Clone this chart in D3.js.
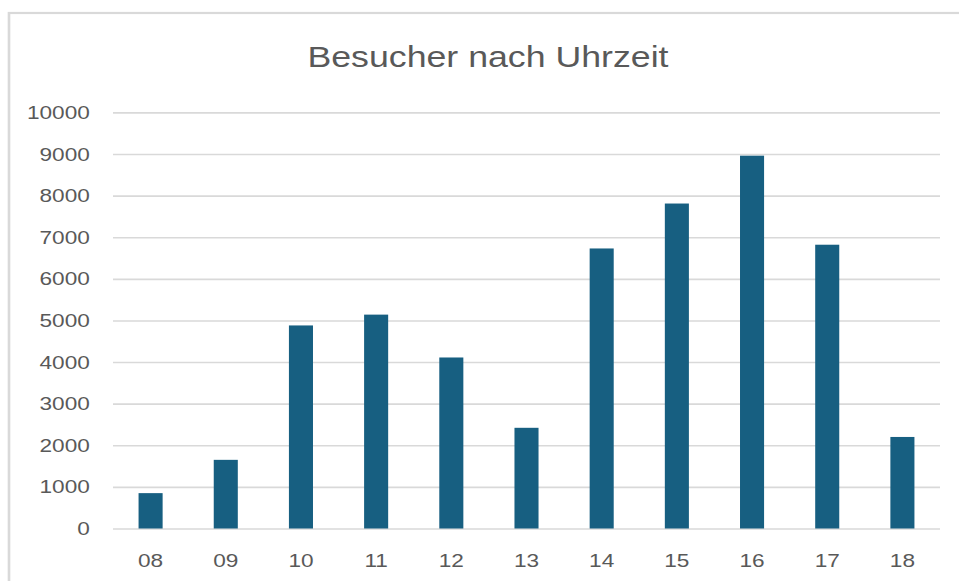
<!DOCTYPE html>
<html>
<head>
<meta charset="utf-8">
<script src="https://cdn.jsdelivr.net/npm/d3@7"></script>
<style>
  body { margin: 0; background: #fff; }
  svg { display: block; }
  .axis text { font-family: "Liberation Sans", Arial, sans-serif; font-size: 19px; fill: #595959; }
  .title { font-family: "Liberation Sans", Arial, sans-serif; font-size: 30px; fill: #595959; }
</style>
</head>
<body>
<svg id="chart"></svg>
<script>
const hours = ["08", "09", "10", "11", "12", "13", "14", "15", "16", "17", "18"];
const visitors = [850, 1650, 4880, 5140, 4110, 2420, 6730, 7810, 8960, 6820, 2200];
const yTicks = [0, 1000, 2000, 3000, 4000, 5000, 6000, 7000, 8000, 9000, 10000];
const titleText = "Besucher nach Uhrzeit";

// the reference looks stretched sideways, so draw in a narrower box and stretch it
const sx = 1.19;
const widthPx = 959, heightPx = 581;
const vbWidth = widthPx / sx;

let margin = {left: 113 / sx, right: 940 / sx, top: 112.4, bottom: 528.5};

let svg = d3.select("#chart")
  .attr("width", widthPx)
  .attr("height", heightPx)
  .attr("viewBox", "0 0 " + vbWidth + " " + heightPx)
  .attr("preserveAspectRatio", "none");

// frame of the chart area, cut off at right and bottom
svg.append("rect")
  .attr("x", 9 / sx)
  .attr("y", 13)
  .attr("width", vbWidth + 20)
  .attr("height", heightPx + 20)
  .attr("fill", "none")
  .attr("stroke", "#d9d9d9")
  .attr("stroke-width", 2.2);

let x = d3.scaleBand()
  .domain(hours)
  .range([margin.left, margin.right])
  .paddingInner(0.68)
  .paddingOuter(0.34);

let y = d3.scaleLinear()
  .domain([0, 10000])
  .range([margin.bottom, margin.top]);

/* grid + y labels */
let yAxis = d3.axisLeft(y)
  .tickValues(yTicks)
  .tickFormat(d3.format("d"))
  .tickSize(-(margin.right - margin.left))
  .tickPadding(19.5);

let gy = svg.append("g")
  .attr("class", "axis")
  .attr("transform", "translate(" + margin.left + ",0)")
  .call(yAxis);
gy.select(".domain").remove();
gy.selectAll("line").attr("stroke", "#d9d9d9").attr("stroke-width", 1.6);
gy.selectAll("text").attr("font-family", null).attr("font-size", null);
gy.attr("font-family", null).attr("font-size", null);

/* bars */
svg.append("g")
  .selectAll("rect")
  .data(visitors)
  .enter().append("rect")
  .attr("x", (d, i) => x(hours[i]))
  .attr("y", d => y(d))
  .attr("width", x.bandwidth())
  .attr("height", d => y(0) - y(d))
  .attr("fill", "#175f81");

/* x labels */
let xAxis = d3.axisBottom(x).tickSize(0).tickPadding(25);
let gx = svg.append("g")
  .attr("class", "axis")
  .attr("transform", "translate(0," + margin.bottom + ")")
  .call(xAxis);
gx.select(".domain").remove();
gx.attr("font-family", null).attr("font-size", null);

/* title */
svg.append("text")
  .attr("class", "title")
  .attr("x", 488 / sx)
  .attr("y", 67)
  .attr("text-anchor", "middle")
  .text(titleText);
</script>
</body>
</html>
